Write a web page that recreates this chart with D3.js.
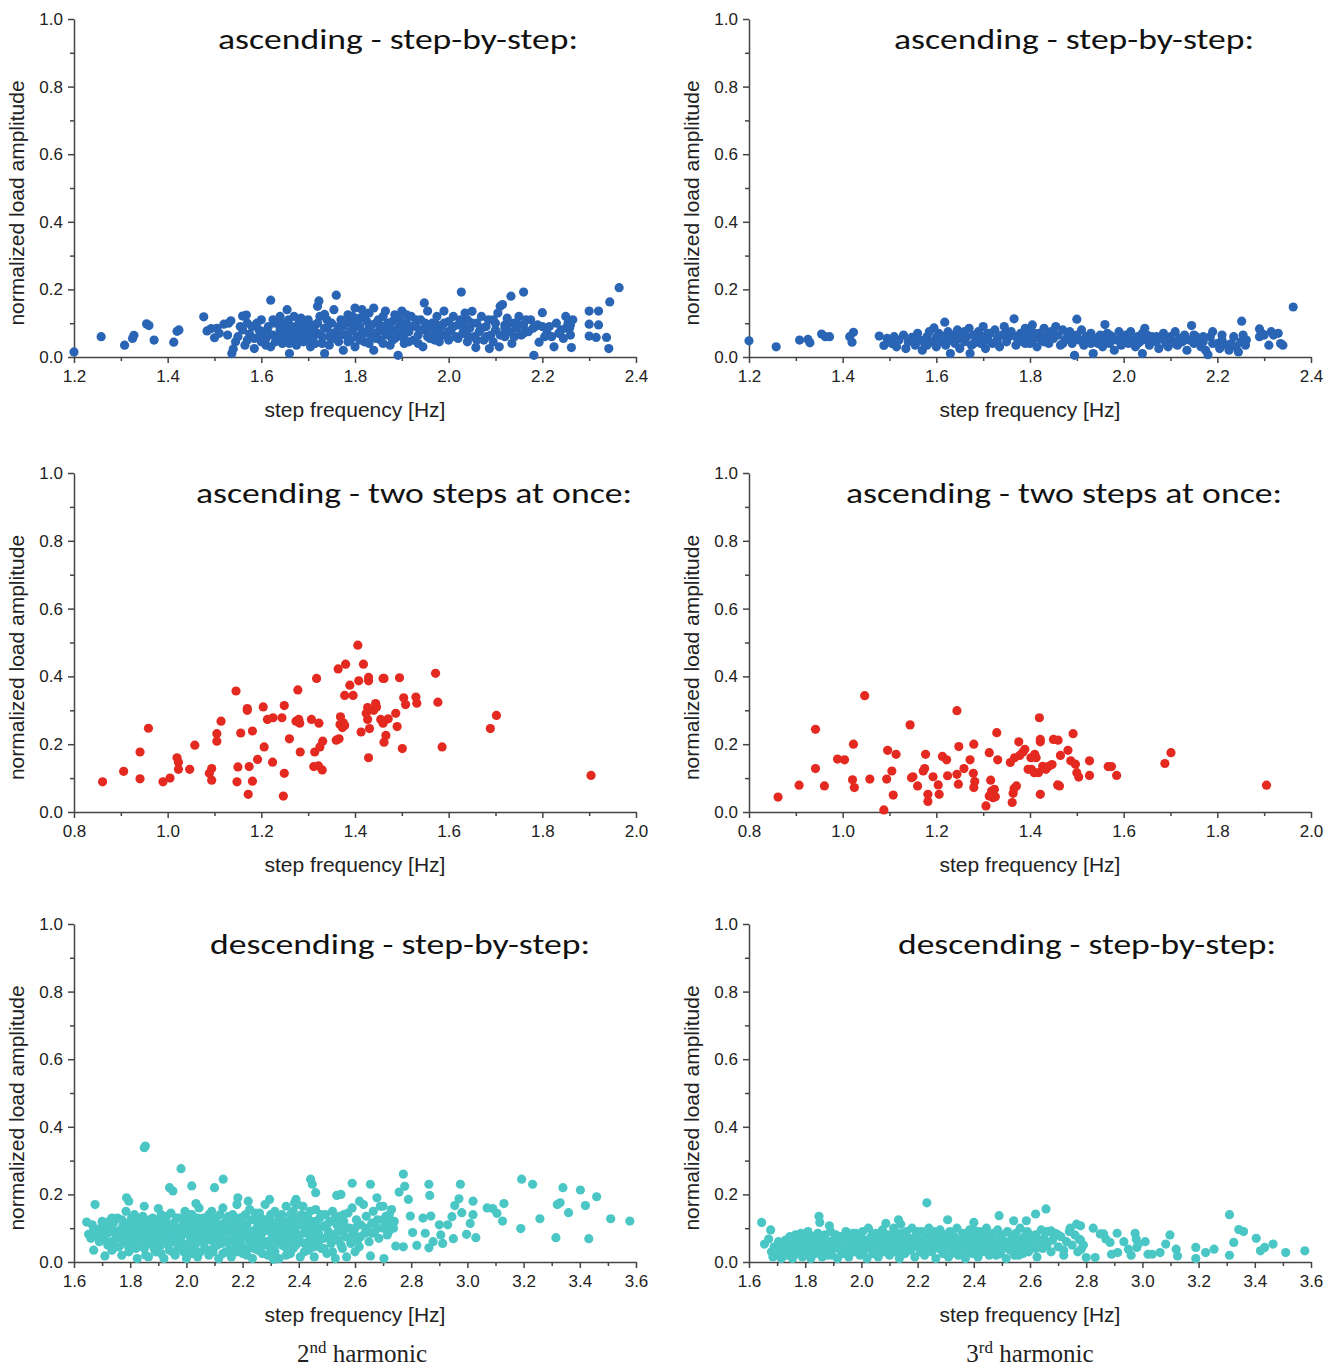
<!DOCTYPE html>
<html>
<head>
<meta charset="utf-8">
<script src="https://cdn.jsdelivr.net/npm/d3@7"></script>
<style>
  body { margin: 0; background: #fff; }
  svg { display: block; }
  .tick text { font-family: "Liberation Sans", Arial, sans-serif; font-size: 17px; fill: #222; }
  .domain, .tick line { stroke: #444; stroke-width: 1.5; }
  .axis-title { font-family: "Liberation Sans", Arial, sans-serif; font-size: 21px; fill: #222; }
  .panel-title { font-family: Calibri, "Open Sans", sans-serif; font-size: 28px; fill: #111; }
  .caption { font-family: "Liberation Serif", "Times New Roman", serif; font-size: 25px; fill: #222; }
</style>
</head>
<body>
<div id="chart"></div>
<script>
(function () {
  'use strict';

  // ascending - step-by-step, 2nd harmonic [step frequency, amplitude]
  var ascStep2 = [
    [1.20,0.015],[1.258,0.06],[1.308,0.035],[1.325,0.055],[1.328,0.064],[1.355,0.098],[1.36,0.093],[1.371,0.05],
    [1.413,0.044],[1.42,0.076],[1.424,0.08],[1.477,0.119],[1.484,0.077],[1.493,0.084],[1.50,0.057],[1.505,0.085],
    [1.51,0.07],[1.52,0.097],[1.53,0.1],[1.535,0.107],[1.528,0.065],[1.537,0.01],[1.54,0.024],[1.545,0.045],
    [1.55,0.06],[1.56,0.121],[1.568,0.124],[1.56,0.08],[1.565,0.035],[1.57,0.05],[1.575,0.068],[1.58,0.09],
    [1.585,0.025],[1.59,0.1],[1.595,0.06],[1.60,0.045],[1.60,0.11],[1.605,0.075],[1.61,0.055],[1.615,0.09],
    [1.62,0.168],[1.62,0.03],[1.625,0.065],[1.63,0.1],[1.635,0.05],[1.64,0.08],[1.64,0.12],[1.645,0.04],
    [1.65,0.06],[1.65,0.095],[1.655,0.14],[1.658,0.11],[1.66,0.01],[1.66,0.07],[1.665,0.05],[1.67,0.085],
    [1.67,0.12],[1.675,0.035],[1.68,0.065],[1.68,0.1],[1.685,0.075],[1.69,0.045],[1.69,0.09],[1.695,0.06],
    [1.70,0.11],[1.70,0.08],[1.705,0.03],[1.71,0.055],[1.715,0.095],[1.72,0.15],[1.723,0.166],[1.72,0.07],
    [1.725,0.12],[1.73,0.04],[1.735,0.01],[1.735,0.126],[1.74,0.085],[1.745,0.06],[1.75,0.1],[1.755,0.14],
    [1.76,0.183],[1.76,0.075],[1.765,0.045],[1.77,0.11],[1.775,0.02],[1.775,0.09],[1.78,0.065],[1.785,0.125],
    [1.79,0.05],[1.79,0.1],[1.795,0.08],[1.80,0.145],[1.80,0.03],[1.805,0.06],[1.81,0.115],[1.81,0.09],
    [1.815,0.14],[1.82,0.07],[1.82,0.045],[1.825,0.105],[1.83,0.13],[1.83,0.085],[1.835,0.06],[1.84,0.145],
    [1.84,0.02],[1.845,0.1],[1.85,0.075],[1.855,0.05],[1.86,0.12],[1.86,0.09],[1.865,0.136],[1.87,0.065],
    [1.875,0.035],[1.88,0.105],[1.88,0.08],[1.885,0.055],[1.89,0.12],[1.892,0.005],[1.895,0.09],[1.90,0.136],
    [1.90,0.06],[1.905,0.04],[1.91,0.1],[1.915,0.075],[1.92,0.12],[1.925,0.05],[1.93,0.09],[1.935,0.065],
    [1.94,0.11],[1.945,0.03],[1.948,0.16],[1.95,0.08],[1.955,0.136],[1.96,0.055],[1.965,0.1],[1.97,0.075],
    [1.975,0.12],[1.98,0.045],[1.985,0.09],[1.99,0.136],[1.99,0.065],[2.0,0.105],[2.0,0.05],[2.005,0.08],
    [2.01,0.12],[2.015,0.06],[2.02,0.095],[2.027,0.192],[2.03,0.07],[2.035,0.13],[2.04,0.11],[2.04,0.045],
    [2.045,0.085],[2.05,0.135],[2.055,0.06],[2.058,0.028],[2.06,0.1],[2.065,0.075],[2.07,0.12],[2.075,0.05],
    [2.08,0.09],[2.087,0.025],[2.09,0.065],[2.095,0.11],[2.10,0.08],[2.105,0.13],[2.108,0.03],[2.11,0.15],
    [2.115,0.155],[2.12,0.095],[2.12,0.06],[2.125,0.115],[2.13,0.075],[2.133,0.18],[2.135,0.04],[2.14,0.1],
    [2.145,0.085],[2.15,0.12],[2.155,0.065],[2.16,0.192],[2.16,0.095],[2.17,0.075],[2.175,0.11],[2.182,0.005],
    [2.185,0.09],[2.193,0.044],[2.20,0.131],[2.20,0.09],[2.21,0.07],[2.22,0.06],[2.225,0.03],[2.23,0.1],
    [2.24,0.08],[2.245,0.055],[2.25,0.12],[2.255,0.1],[2.258,0.085],[2.26,0.065],[2.262,0.028],[2.265,0.11],
    [2.30,0.136],[2.30,0.097],[2.30,0.062],[2.32,0.136],[2.32,0.095],[2.315,0.058],[2.337,0.058],[2.342,0.025],
    [2.344,0.163],[2.364,0.205],
    [1.555,0.09],[1.57,0.1],[1.585,0.055],[1.595,0.08],[1.61,0.035],[1.615,0.07],[1.625,0.11],[1.63,0.045],
    [1.64,0.06],[1.645,0.1],[1.655,0.08],[1.66,0.04],[1.665,0.09],[1.675,0.06],[1.68,0.045],[1.685,0.115],
    [1.69,0.07],[1.70,0.05],[1.705,0.095],[1.71,0.075],[1.715,0.04],[1.72,0.1],[1.73,0.06],[1.735,0.085],
    [1.74,0.11],[1.745,0.035],[1.75,0.07],[1.755,0.055],[1.765,0.09],[1.77,0.065],[1.78,0.1],[1.785,0.045],
    [1.79,0.075],[1.795,0.12],[1.80,0.09],[1.805,0.1],[1.81,0.05],[1.815,0.075],[1.82,0.12],[1.83,0.04],
    [1.835,0.095],[1.84,0.07],[1.845,0.055],[1.85,0.11],[1.855,0.09],[1.86,0.04],[1.865,0.07],[1.87,0.1],
    [1.875,0.085],[1.88,0.05],[1.885,0.125],[1.89,0.075],[1.895,0.11],[1.90,0.085],[1.905,0.065],[1.91,0.125],
    [1.915,0.045],[1.92,0.09],[1.93,0.11],[1.935,0.04],[1.94,0.08],[1.95,0.1],[1.955,0.06],[1.96,0.085],
    [1.97,0.05],[1.975,0.095],[1.98,0.07],[1.99,0.1],[2.0,0.075],[2.01,0.09],[2.02,0.055],[2.025,0.11],
    [2.03,0.09],[2.04,0.065],[2.05,0.1],[2.06,0.05],[2.07,0.085],[2.08,0.06],[2.085,0.11],[2.095,0.045],
    [2.10,0.1],[2.11,0.065],[2.12,0.085],[2.13,0.1],[2.14,0.06],[2.15,0.095],[2.16,0.07],[2.165,0.11],
    [2.18,0.085],[2.19,0.095],[2.205,0.06],[2.215,0.09],[2.235,0.07],[2.25,0.085],[2.26,0.095]
  ];

  // ascending - step-by-step, 3rd harmonic
  var ascStep3 = [
    [1.20,0.048],[1.258,0.03],[1.308,0.05],[1.326,0.052],[1.33,0.042],[1.355,0.068],[1.363,0.06],[1.372,0.06],
    [1.415,0.06],[1.42,0.044],[1.423,0.073],[1.478,0.062],[1.488,0.034],[1.495,0.055],[1.505,0.04],[1.51,0.06],
    [1.515,0.03],[1.52,0.05],[1.53,0.065],[1.535,0.025],[1.54,0.045],[1.548,0.058],[1.555,0.035],[1.56,0.07],
    [1.565,0.05],[1.57,0.02],[1.575,0.04],[1.58,0.06],[1.585,0.075],[1.59,0.045],[1.595,0.086],[1.60,0.03],
    [1.60,0.058],[1.605,0.07],[1.61,0.045],[1.615,0.06],[1.618,0.103],[1.62,0.035],[1.625,0.075],[1.63,0.01],
    [1.63,0.05],[1.635,0.065],[1.64,0.04],[1.645,0.08],[1.65,0.055],[1.65,0.025],[1.655,0.07],[1.66,0.045],
    [1.665,0.06],[1.67,0.085],[1.672,0.01],[1.675,0.035],[1.68,0.065],[1.685,0.05],[1.69,0.075],[1.695,0.04],
    [1.70,0.09],[1.70,0.06],[1.705,0.025],[1.71,0.05],[1.715,0.07],[1.72,0.04],[1.725,0.08],[1.73,0.055],
    [1.735,0.03],[1.74,0.065],[1.745,0.09],[1.75,0.045],[1.755,0.06],[1.76,0.075],[1.766,0.113],[1.77,0.035],
    [1.775,0.055],[1.78,0.07],[1.785,0.045],[1.79,0.085],[1.795,0.06],[1.80,0.04],[1.80,0.075],[1.805,0.095],
    [1.81,0.055],[1.815,0.03],[1.82,0.07],[1.825,0.05],[1.83,0.085],[1.835,0.06],[1.84,0.04],[1.845,0.075],
    [1.85,0.055],[1.855,0.09],[1.86,0.065],[1.865,0.035],[1.87,0.08],[1.875,0.05],[1.88,0.06],[1.885,0.075],
    [1.89,0.04],[1.895,0.005],[1.90,0.112],[1.90,0.065],[1.905,0.05],[1.91,0.08],[1.915,0.035],[1.92,0.06],
    [1.925,0.045],[1.93,0.07],[1.935,0.01],[1.94,0.055],[1.945,0.04],[1.95,0.065],[1.955,0.03],[1.96,0.096],
    [1.96,0.05],[1.965,0.07],[1.97,0.04],[1.975,0.06],[1.98,0.02],[1.985,0.05],[1.99,0.075],[1.995,0.035],
    [2.0,0.055],[2.005,0.065],[2.01,0.04],[2.015,0.075],[2.02,0.05],[2.025,0.03],[2.03,0.06],[2.035,0.045],
    [2.04,0.01],[2.04,0.07],[2.045,0.085],[2.05,0.05],[2.055,0.035],[2.06,0.06],[2.07,0.045],[2.075,0.025],
    [2.08,0.055],[2.085,0.07],[2.09,0.04],[2.095,0.03],[2.10,0.06],[2.105,0.05],[2.11,0.075],[2.115,0.035],
    [2.12,0.055],[2.125,0.045],[2.13,0.065],[2.135,0.02],[2.14,0.05],[2.145,0.093],[2.15,0.04],[2.155,0.06],
    [2.16,0.05],[2.165,0.03],[2.17,0.045],[2.175,0.02],[2.18,0.007],[2.185,0.06],[2.19,0.075],[2.20,0.04],
    [2.205,0.025],[2.21,0.05],[2.22,0.035],[2.225,0.02],[2.23,0.04],[2.235,0.06],[2.24,0.03],[2.245,0.015],
    [2.25,0.045],[2.252,0.106],[2.255,0.065],[2.26,0.035],[2.262,0.05],[2.29,0.083],[2.29,0.06],[2.295,0.07],
    [2.30,0.065],[2.31,0.035],[2.315,0.075],[2.32,0.065],[2.33,0.07],[2.335,0.04],[2.34,0.035],[2.362,0.148],
    [1.56,0.05],[1.58,0.035],[1.62,0.06],[1.64,0.055],[1.66,0.075],[1.68,0.04],[1.69,0.055],[1.71,0.07],
    [1.73,0.045],[1.75,0.075],[1.77,0.06],[1.79,0.04],[1.81,0.07],[1.83,0.045],[1.85,0.07],[1.87,0.04],
    [1.89,0.06],[1.91,0.05],[1.93,0.04],[1.95,0.05],[1.97,0.065],[1.99,0.05],[2.01,0.06],[2.03,0.04],
    [2.05,0.065],[2.07,0.06],[2.09,0.055],[2.11,0.04],[2.13,0.05],[2.15,0.065],[2.17,0.06],[2.19,0.04],
    [2.21,0.065]
  ];

  // ascending - two steps at once, 2nd harmonic
  var ascTwo2 = [
    [0.861,0.089],[0.906,0.12],[0.941,0.177],[0.941,0.098],[0.959,0.247],[0.99,0.089],[1.005,0.1],[1.02,0.16],
    [1.023,0.147],[1.023,0.126],[1.047,0.126],[1.058,0.197],[1.089,0.114],[1.094,0.128],[1.094,0.094],[1.105,0.209],
    [1.105,0.231],[1.114,0.268],[1.146,0.357],[1.148,0.089],[1.15,0.133],[1.156,0.233],[1.17,0.3],[1.17,0.305],
    [1.172,0.052],[1.174,0.134],[1.181,0.239],[1.181,0.091],[1.192,0.155],[1.204,0.31],[1.206,0.192],[1.213,0.273],
    [1.224,0.147],[1.225,0.278],[1.244,0.278],[1.247,0.047],[1.249,0.114],[1.249,0.314],[1.26,0.216],[1.278,0.36],
    [1.274,0.268],[1.28,0.273],[1.282,0.262],[1.283,0.177],[1.307,0.273],[1.312,0.134],[1.314,0.177],[1.318,0.394],
    [1.323,0.262],[1.322,0.136],[1.325,0.192],[1.33,0.124],[1.331,0.209],[1.36,0.212],[1.364,0.422],[1.366,0.216],
    [1.368,0.258],[1.369,0.281],[1.373,0.249],[1.375,0.263],[1.378,0.255],[1.38,0.436],[1.378,0.344],[1.389,0.374],
    [1.396,0.344],[1.406,0.492],[1.408,0.387],[1.413,0.236],[1.418,0.436],[1.424,0.291],[1.427,0.273],[1.427,0.308],
    [1.429,0.397],[1.429,0.387],[1.429,0.16],[1.431,0.246],[1.44,0.30],[1.444,0.32],[1.446,0.31],[1.455,0.273],
    [1.46,0.394],[1.462,0.394],[1.46,0.262],[1.462,0.206],[1.466,0.226],[1.471,0.275],[1.487,0.291],[1.49,0.252],
    [1.495,0.396],[1.501,0.187],[1.504,0.337],[1.508,0.317],[1.53,0.339],[1.532,0.321],[1.572,0.409],[1.577,0.324],
    [1.586,0.192],[1.689,0.246],[1.702,0.285],[1.904,0.108]
  ];

  // ascending - two steps at once, 3rd harmonic
  var ascTwo3 = [
    [0.862,0.044],[0.907,0.079],[0.942,0.244],[0.942,0.128],[0.961,0.077],[0.989,0.156],[1.004,0.154],[1.023,0.2],
    [1.021,0.095],[1.025,0.072],[1.047,0.343],[1.058,0.097],[1.088,0.006],[1.094,0.097],[1.096,0.182],[1.105,0.121],
    [1.108,0.05],[1.114,0.17],[1.144,0.257],[1.147,0.101],[1.15,0.104],[1.16,0.077],[1.177,0.17],[1.175,0.128],
    [1.172,0.121],[1.182,0.052],[1.182,0.031],[1.193,0.104],[1.206,0.052],[1.204,0.08],[1.213,0.164],[1.222,0.154],
    [1.224,0.107],[1.244,0.299],[1.248,0.193],[1.247,0.082],[1.244,0.111],[1.259,0.128],[1.272,0.154],[1.279,0.114],
    [1.28,0.072],[1.282,0.09],[1.28,0.2],[1.313,0.175],[1.316,0.094],[1.306,0.018],[1.313,0.047],[1.318,0.062],
    [1.321,0.042],[1.324,0.067],[1.326,0.045],[1.329,0.234],[1.331,0.154],[1.358,0.146],[1.362,0.028],[1.364,0.055],
    [1.366,0.069],[1.371,0.077],[1.367,0.16],[1.376,0.207],[1.378,0.167],[1.385,0.177],[1.389,0.185],[1.396,0.126],
    [1.403,0.126],[1.402,0.16],[1.41,0.17],[1.413,0.16],[1.409,0.116],[1.418,0.116],[1.42,0.278],[1.422,0.214],
    [1.422,0.207],[1.422,0.052],[1.427,0.135],[1.434,0.126],[1.44,0.135],[1.447,0.14],[1.45,0.214],[1.46,0.212],
    [1.459,0.08],[1.463,0.077],[1.465,0.167],[1.481,0.182],[1.487,0.151],[1.492,0.231],[1.497,0.141],[1.5,0.116],
    [1.504,0.103],[1.527,0.151],[1.527,0.108],[1.567,0.134],[1.574,0.134],[1.585,0.108],[1.688,0.143],[1.701,0.175],
    [1.905,0.079]
  ];

  // descending - step-by-step, 2nd harmonic
  var descStep2 = [
    [1.645,0.118],[1.652,0.082],[1.675,0.17],[1.670,0.035],[1.71,0.018],[1.735,0.13],[1.787,0.19],[1.795,0.18],
    [1.85,0.165],[1.854,0.343],[1.85,0.338],[1.90,0.158],[1.94,0.22],[1.952,0.21],[1.981,0.276],[2.019,0.225],
    [2.034,0.173],[2.10,0.22],[2.131,0.245],[2.183,0.19],[2.22,0.18],[2.296,0.185],[2.31,0.008],[2.385,0.175],
    [2.39,0.185],[2.442,0.245],[2.448,0.23],[2.46,0.205],[2.535,0.197],[2.55,0.2],[2.59,0.233],[2.616,0.18],
    [2.655,0.23],[2.655,0.018],[2.678,0.19],[2.70,0.165],[2.703,0.01],[2.722,0.14],[2.737,0.1],[2.745,0.047],
    [2.757,0.207],[2.772,0.26],[2.777,0.224],[2.79,0.185],[2.772,0.045],[2.797,0.136],[2.805,0.087],[2.82,0.049],
    [2.842,0.13],[2.85,0.085],[2.863,0.23],[2.866,0.197],[2.863,0.042],[2.87,0.136],[2.878,0.06],[2.90,0.11],
    [2.905,0.08],[2.912,0.055],[2.93,0.11],[2.945,0.134],[2.95,0.069],[2.955,0.167],[2.97,0.187],[2.975,0.23],
    [2.98,0.146],[2.997,0.082],[3.01,0.114],[3.02,0.18],[3.02,0.14],[3.03,0.072],[3.07,0.16],[3.09,0.158],
    [3.105,0.144],[3.125,0.121],[3.13,0.173],[3.193,0.245],[3.19,0.099],[3.232,0.23],[3.258,0.128],[3.315,0.072],
    [3.32,0.17],[3.33,0.175],[3.34,0.22],[3.36,0.146],[3.402,0.213],[3.42,0.167],[3.432,0.069],[3.46,0.193],
    [3.51,0.128],[3.578,0.121],
    [1.66,0.07],[1.665,0.11],[1.68,0.09],[1.69,0.06],[1.70,0.12],[1.705,0.08],[1.715,0.10],[1.72,0.05],
    [1.73,0.09],[1.735,0.035],[1.74,0.115],[1.75,0.07],[1.755,0.13],[1.76,0.045],[1.765,0.095],[1.77,0.02],
    [1.775,0.11],[1.78,0.06],[1.785,0.15],[1.79,0.085],[1.795,0.03],[1.80,0.12],[1.80,0.07],
    [1.805,0.1],[1.81,0.045],[1.815,0.14],[1.82,0.08],[1.825,0.01],[1.83,0.115],[1.835,0.06],[1.84,0.095],
    [1.845,0.135],[1.85,0.04],[1.855,0.075],[1.86,0.12],[1.865,0.015],[1.87,0.09],[1.875,0.055],[1.88,0.13],
    [1.885,0.1],[1.89,0.03],[1.895,0.07],[1.90,0.11],[1.905,0.045],[1.91,0.14],[1.915,0.085],[1.92,0.01],
    [1.925,0.12],[1.93,0.06],[1.935,0.1],[1.94,0.035],[1.945,0.145],[1.95,0.075],
    [1.955,0.115],[1.96,0.02],[1.965,0.09],[1.97,0.05],[1.975,0.13],[1.98,0.07],[1.985,0.105],[1.99,0.03],
    [1.995,0.15],[2.0,0.085],[2.0,0.01],[2.005,0.12],[2.01,0.055],[2.015,0.095],[2.02,0.14],[2.025,0.035],
    [2.03,0.075],[2.035,0.11],[2.04,0.015],[2.045,0.16],[2.05,0.06],[2.055,0.1],[2.06,0.13],[2.065,0.04],
    [2.07,0.085],[2.075,0.12],[2.08,0.02],[2.085,0.065],[2.09,0.15],[2.095,0.1],[2.10,0.045],
    [2.105,0.13],[2.11,0.075],[2.115,0.01],[2.12,0.11],[2.125,0.055],[2.13,0.16],[2.135,0.09],[2.14,0.03],
    [2.145,0.125],[2.15,0.065],[2.155,0.1],[2.16,0.015],[2.165,0.14],[2.17,0.08],[2.175,0.045],[2.18,0.17],
    [2.185,0.115],[2.19,0.06],[2.195,0.095],[2.20,0.025],[2.205,0.135],[2.21,0.075],[2.215,0.11],[2.22,0.04],
    [2.225,0.155],[2.23,0.09],[2.235,0.01],[2.24,0.125],[2.245,0.06],[2.25,0.1],
    [2.255,0.035],[2.26,0.145],[2.265,0.08],[2.27,0.115],[2.275,0.05],[2.28,0.17],[2.285,0.095],[2.29,0.02],
    [2.295,0.13],[2.30,0.065],[2.305,0.105],[2.31,0.04],[2.315,0.15],[2.32,0.085],[2.325,0.12],[2.33,0.01],
    [2.335,0.07],[2.34,0.14],[2.345,0.1],[2.35,0.045],[2.355,0.165],[2.36,0.08],[2.365,0.12],[2.37,0.025],
    [2.375,0.06],[2.38,0.15],[2.385,0.095],[2.39,0.05],[2.395,0.13],[2.40,0.075],
    [2.405,0.015],[2.41,0.11],[2.415,0.165],[2.42,0.055],[2.425,0.09],[2.43,0.135],[2.435,0.035],[2.44,0.07],
    [2.445,0.12],[2.45,0.1],[2.455,0.015],[2.46,0.155],[2.465,0.06],[2.47,0.085],[2.475,0.13],[2.48,0.04],
    [2.485,0.105],[2.49,0.07],[2.495,0.14],[2.50,0.025],[2.505,0.09],[2.51,0.12],[2.515,0.055],[2.52,0.15],
    [2.525,0.08],[2.53,0.01],[2.535,0.11],[2.54,0.065],[2.545,0.135],[2.55,0.095],
    [2.555,0.04],[2.56,0.12],[2.565,0.075],[2.57,0.015],[2.575,0.145],[2.58,0.1],[2.585,0.055],[2.59,0.16],
    [2.595,0.085],[2.60,0.03],[2.605,0.125],[2.61,0.065],[2.615,0.045],[2.62,0.11],[2.63,0.17],[2.635,0.085],
    [2.64,0.135],[2.65,0.06],[2.66,0.115],[2.665,0.15],[2.67,0.09],[2.68,0.125],[2.685,0.07],[2.69,0.165],
    [2.70,0.1],[2.71,0.135],[2.715,0.08],[2.72,0.115],[2.73,0.155],[2.74,0.12],
    [1.67,0.1],[1.685,0.075],[1.695,0.1],[1.71,0.065],[1.72,0.085],[1.725,0.12],[1.735,0.06],[1.745,0.09],
    [1.75,0.045],[1.76,0.08],[1.77,0.125],[1.775,0.065],[1.785,0.1],[1.79,0.05],[1.80,0.09],[1.805,0.13],
    [1.81,0.065],[1.815,0.105],[1.82,0.04],[1.83,0.085],[1.835,0.125],[1.84,0.06],[1.85,0.1],[1.855,0.02],
    [1.86,0.085],[1.865,0.055],[1.87,0.125],[1.875,0.1],[1.88,0.075],[1.885,0.04],[1.89,0.115],[1.895,0.09],
    [1.90,0.06],[1.905,0.125],[1.91,0.025],[1.915,0.1],[1.92,0.07],[1.925,0.095],[1.93,0.135],[1.935,0.05],
    [1.94,0.085],[1.945,0.11],[1.95,0.03],[1.955,0.06],[1.96,0.1],[1.965,0.13],[1.97,0.075],[1.975,0.04],
    [1.98,0.1],[1.985,0.055],[1.99,0.125],[1.995,0.085],[2.0,0.04],[2.005,0.1],[2.01,0.14],[2.015,0.07],
    [2.02,0.025],[2.025,0.115],[2.03,0.05],[2.035,0.09],[2.04,0.13],[2.045,0.075],[2.05,0.03],[2.055,0.12],
    [2.06,0.085],[2.065,0.06],[2.07,0.105],[2.075,0.035],[2.08,0.14],[2.085,0.095],[2.09,0.07],[2.095,0.03],
    [2.10,0.12],[2.105,0.085],[2.11,0.05],[2.115,0.1],[2.12,0.14],[2.125,0.075],[2.13,0.025],[2.135,0.115],
    [2.14,0.06],[2.145,0.09],[2.15,0.135],[2.155,0.04],[2.16,0.1],[2.165,0.065],[2.17,0.12],[2.175,0.09],
    [2.18,0.03],[2.185,0.075],[2.19,0.13],[2.195,0.05],[2.20,0.11],[2.205,0.08],[2.21,0.14],[2.215,0.02],
    [2.22,0.095],[2.225,0.06],[2.23,0.125],[2.235,0.075],[2.24,0.04],[2.245,0.145],[2.25,0.08],[2.255,0.11],
    [2.26,0.055],[2.265,0.13],[2.27,0.025],[2.275,0.09],[2.28,0.06],[2.285,0.125],[2.29,0.1],[2.295,0.045],
    [2.30,0.14],[2.305,0.08],[2.31,0.115],[2.315,0.03],[2.32,0.1],[2.325,0.06],[2.33,0.135],[2.335,0.09],
    [2.34,0.05],[2.345,0.12],[2.35,0.075],[2.355,0.02],[2.36,0.105],[2.365,0.065],[2.37,0.14],[2.375,0.095],
    [2.38,0.04],[2.385,0.12],[2.39,0.08],[2.395,0.17],[2.40,0.11],[2.405,0.06],[2.41,0.14],[2.415,0.085],
    [2.42,0.03],[2.425,0.12],[2.43,0.1],[2.435,0.06],[2.44,0.15],[2.45,0.08],[2.455,0.045],[2.46,0.12],
    [2.47,0.1],[2.475,0.065],[2.48,0.14],[2.49,0.04],[2.50,0.11],[2.51,0.075],[2.52,0.03],[2.53,0.13],
    [2.54,0.09],[2.55,0.05],[2.56,0.14],[2.57,0.1],[2.58,0.07],[2.6,0.1],[2.62,0.075],[2.64,0.1],
    [2.66,0.085],[2.68,0.1],[2.7,0.125],[2.72,0.09]
  ];

  // descending - step-by-step, 3rd harmonic
  var descStep3 = [
    [1.645,0.117],[1.655,0.053],[1.677,0.095],[1.67,0.068],[1.849,0.135],[1.852,0.117],[1.886,0.107],[2.087,0.114],
    [2.132,0.125],[2.14,0.112],[2.233,0.175],[2.307,0.125],[2.40,0.117],[2.49,0.137],[2.542,0.122],[2.587,0.122],
    [2.62,0.142],[2.657,0.157],[2.66,0.09],[2.675,0.092],[2.743,0.1],[2.766,0.112],[2.78,0.107],[2.775,0.068],
    [2.782,0.038],[2.80,0.013],[2.832,0.013],[2.825,0.1],[2.85,0.083],[2.862,0.083],[2.87,0.068],[2.885,0.058],
    [2.89,0.023],[2.91,0.085],[2.912,0.028],[2.934,0.06],[2.95,0.038],[2.96,0.02],[2.974,0.085],[2.978,0.068],
    [2.98,0.043],[2.985,0.053],[3.01,0.06],[3.02,0.023],[3.035,0.023],[3.063,0.028],[3.083,0.053],[3.098,0.08],
    [3.12,0.038],[3.125,0.018],[3.19,0.043],[3.19,0.01],[3.225,0.028],[3.255,0.038],[3.31,0.14],[3.31,0.02],
    [3.325,0.058],[3.343,0.096],[3.36,0.09],[3.405,0.07],[3.42,0.033],[3.435,0.043],[3.465,0.053],[3.51,0.028],
    [3.578,0.033],
    [1.68,0.03],[1.685,0.015],[1.69,0.045],[1.70,0.025],[1.705,0.06],[1.71,0.035],[1.715,0.01],[1.72,0.05],
    [1.725,0.03],[1.73,0.065],[1.735,0.02],[1.74,0.045],[1.745,0.075],[1.75,0.035],[1.755,0.01],[1.76,0.055],
    [1.765,0.08],[1.77,0.025],[1.775,0.06],[1.78,0.04],[1.785,0.085],[1.79,0.015],[1.795,0.07],[1.80,0.05],
    [1.805,0.03],[1.81,0.09],[1.815,0.06],[1.82,0.01],[1.825,0.04],[1.83,0.075],[1.835,0.025],[1.84,0.055],
    [1.845,0.085],[1.85,0.035],[1.855,0.065],[1.86,0.015],[1.865,0.045],[1.87,0.08],[1.875,0.03],[1.88,0.06],
    [1.885,0.04],[1.89,0.09],[1.895,0.02],[1.90,0.065],[1.905,0.045],[1.91,0.08],[1.915,0.01],[1.92,0.055],
    [1.925,0.035],[1.93,0.075],[1.935,0.025],[1.94,0.06],[1.945,0.09],[1.95,0.04],[1.955,0.015],[1.96,0.07],
    [1.965,0.05],[1.97,0.085],[1.975,0.03],[1.98,0.06],[1.985,0.04],[1.99,0.075],[1.995,0.02],[2.0,0.055],
    [2.005,0.09],[2.01,0.035],[2.015,0.065],[2.02,0.01],[2.025,0.1],[2.03,0.045],[2.035,0.075],[2.04,0.025],
    [2.045,0.06],[2.05,0.085],[2.055,0.04],[2.06,0.015],[2.065,0.07],[2.07,0.05],[2.075,0.095],[2.08,0.03],
    [2.085,0.06],[2.09,0.04],[2.095,0.08],[2.10,0.02],[2.105,0.065],[2.11,0.045],[2.115,0.1],[2.12,0.03],
    [2.125,0.075],[2.13,0.055],[2.135,0.01],[2.14,0.085],[2.145,0.04],[2.15,0.065],[2.155,0.025],[2.16,0.09],
    [2.165,0.05],[2.17,0.07],[2.175,0.035],[2.18,0.1],[2.185,0.06],[2.19,0.015],[2.195,0.08],[2.20,0.045],
    [2.205,0.065],[2.21,0.03],[2.215,0.09],[2.22,0.055],[2.225,0.02],[2.23,0.075],[2.235,0.04],[2.24,0.1],
    [2.245,0.06],[2.25,0.03],[2.255,0.085],[2.26,0.05],[2.265,0.01],[2.27,0.07],[2.275,0.04],[2.28,0.095],
    [2.285,0.06],[2.29,0.025],[2.295,0.08],[2.30,0.045],[2.305,0.065],[2.31,0.015],[2.315,0.09],[2.32,0.055],
    [2.325,0.035],[2.33,0.075],[2.335,0.05],[2.34,0.1],[2.345,0.02],[2.35,0.065],[2.355,0.04],[2.36,0.085],
    [2.365,0.055],[2.37,0.01],[2.375,0.075],[2.38,0.035],[2.385,0.095],[2.39,0.06],[2.395,0.025],[2.40,0.08],
    [2.405,0.045],[2.41,0.065],[2.415,0.015],[2.42,0.09],[2.425,0.05],[2.43,0.03],[2.435,0.075],[2.44,0.055],
    [2.445,0.1],[2.45,0.04],[2.455,0.02],[2.46,0.07],[2.465,0.06],[2.47,0.085],[2.475,0.035],[2.48,0.05],
    [2.485,0.095],[2.49,0.065],[2.495,0.025],[2.50,0.08],[2.505,0.045],[2.51,0.06],[2.515,0.01],[2.52,0.09],
    [2.525,0.055],[2.53,0.035],[2.535,0.075],[2.54,0.05],[2.545,0.02],[2.55,0.085],[2.555,0.065],[2.56,0.04],
    [2.565,0.1],[2.57,0.06],[2.575,0.025],[2.58,0.075],[2.585,0.045],[2.59,0.09],[2.595,0.03],[2.60,0.06],
    [2.61,0.045],[2.62,0.08],[2.625,0.015],[2.63,0.065],[2.64,0.095],[2.645,0.04],[2.65,0.07],[2.66,0.05],
    [2.67,0.09],[2.675,0.03],[2.68,0.065],[2.69,0.085],[2.70,0.045],[2.71,0.075],[2.72,0.035],[2.73,0.06],
    [2.74,0.09],[2.75,0.05],[2.76,0.08],[2.77,0.03],[2.78,0.065],[2.79,0.05],
    [1.695,0.02],[1.71,0.055],[1.73,0.04],[1.75,0.06],[1.77,0.045],[1.79,0.035],[1.80,0.07],[1.82,0.055],
    [1.84,0.03],[1.86,0.07],[1.88,0.02],[1.90,0.04],[1.92,0.075],[1.94,0.03],[1.96,0.055],[1.98,0.085],
    [2.0,0.025],[2.02,0.06],[2.04,0.08],[2.06,0.045],[2.08,0.075],[2.10,0.05],[2.12,0.085],[2.14,0.02],
    [2.16,0.06],[2.18,0.045],[2.2,0.09],[2.22,0.03],[2.24,0.065],[2.26,0.09],[2.28,0.045],[2.3,0.07],
    [2.32,0.025],[2.34,0.06],[2.36,0.03],[2.38,0.055],[2.4,0.095],[2.42,0.03],[2.44,0.08],[2.46,0.045],
    [2.48,0.02],[2.5,0.06],[2.52,0.04],[2.54,0.07],[2.56,0.02],[2.58,0.05],[2.6,0.08],[2.62,0.04],
    [2.64,0.06],[2.7,0.08],[2.72,0.02]
  ];

  var titles = ['ascending - step-by-step:', 'ascending - two steps at once:', 'descending - step-by-step:'];
  var xDomains = [[1.2, 2.4], [0.8, 2.0], [1.6, 3.6]];
  var yTicks = [0, 0.2, 0.4, 0.6, 0.8, 1.0];
  var captions = ['nd', 'rd'];
  var colors = ['#2a64b4', '#e42a20', '#4ac7c5'];

  var panels = [
    { data: ascStep2,  row: 0, col: 0, titleX: 398, titleW: 360 },
    { data: ascStep3,  row: 0, col: 1, titleX: 1074, titleW: 360 },
    { data: ascTwo2,   row: 1, col: 0, titleX: 414, titleW: 436 },
    { data: ascTwo3,   row: 1, col: 1, titleX: 1064, titleW: 436 },
    { data: descStep2, row: 2, col: 0, titleX: 400, titleW: 380 },
    { data: descStep3, row: 2, col: 1, titleX: 1087, titleW: 378 }
  ];

  var rowTop = [19, 473, 924];
  var rowBottom = [357, 812, 1262];
  var colLeft = [74, 749];
  var plotWidth = 562;

  var svg = d3.select('#chart').append('svg')
    .attr('width', 1338)
    .attr('height', 1369);

  panels.forEach(function (p) {
    var left = colLeft[p.col];
    var top = rowTop[p.row];
    var bottom = rowBottom[p.row];
    var domain = xDomains[p.row];

    var x = d3.scaleLinear().domain(domain).range([left, left + plotWidth]);
    var y = d3.scaleLinear().domain([0, 1]).range([bottom, top]);

    var majorX = d3.range(Math.round(domain[0] * 10), Math.round(domain[1] * 10) + 1, 2).map(function (v) { return v / 10; });
    var minorX = d3.range(Math.round(domain[0] * 10) + 1, Math.round(domain[1] * 10), 2).map(function (v) { return v / 10; });
    var minorY = [0.1, 0.3, 0.5, 0.7, 0.9];

    var g = svg.append('g');

    // minor ticks
    g.append('g')
      .attr('transform', 'translate(0,' + bottom + ')')
      .call(d3.axisBottom(x).tickValues(minorX).tickSize(4).tickFormat('').tickSizeOuter(0))
      .call(function (s) { s.select('.domain').remove(); });
    g.append('g')
      .attr('transform', 'translate(' + left + ',0)')
      .call(d3.axisLeft(y).tickValues(minorY).tickSize(4).tickFormat('').tickSizeOuter(0))
      .call(function (s) { s.select('.domain').remove(); });

    // major axes
    g.append('g')
      .attr('transform', 'translate(0,' + bottom + ')')
      .call(d3.axisBottom(x).tickValues(majorX).tickSize(6).tickPadding(7).tickFormat(d3.format('.1f')).tickSizeOuter(0));
    g.append('g')
      .attr('transform', 'translate(' + left + ',0)')
      .call(d3.axisLeft(y).tickValues(yTicks).tickSize(6).tickPadding(5).tickFormat(d3.format('.1f')).tickSizeOuter(0));

    // points
    g.append('g')
      .selectAll('circle')
      .data(p.data)
      .enter()
      .append('circle')
      .attr('cx', function (d) { return x(d[0]); })
      .attr('cy', function (d) { return y(d[1]); })
      .attr('r', 4.6)
      .style('fill', colors[p.row]);

    // axis titles
    g.append('text')
      .classed('axis-title', true)
      .attr('x', left + plotWidth / 2)
      .attr('y', bottom + 60)
      .attr('text-anchor', 'middle')
      .text('step frequency [Hz]');

    g.append('text')
      .classed('axis-title', true)
      .attr('transform', 'translate(' + (left - 50) + ',' + ((top + bottom) / 2 + 15) + ') rotate(-90)')
      .attr('text-anchor', 'middle')
      .text('normalized load amplitude');

    // panel title
    g.append('text')
      .classed('panel-title', true)
      .attr('x', p.titleX)
      .attr('y', top + 30)
      .attr('text-anchor', 'middle')
      .attr('textLength', p.titleW)
      .attr('lengthAdjust', 'spacingAndGlyphs')
      .text(titles[p.row]);
  });

  // harmonic captions
  [362, 1030].forEach(function (cx, i) {
    var t = svg.append('text')
      .classed('caption', true)
      .attr('x', cx)
      .attr('y', 1362)
      .attr('text-anchor', 'middle');
    t.append('tspan').text(String(i + 2));
    t.append('tspan').attr('dy', -9).style('font-size', '17px').text(captions[i]);
    t.append('tspan').attr('dy', 9).text(' harmonic');
  });
}());
</script>
</body>
</html>
